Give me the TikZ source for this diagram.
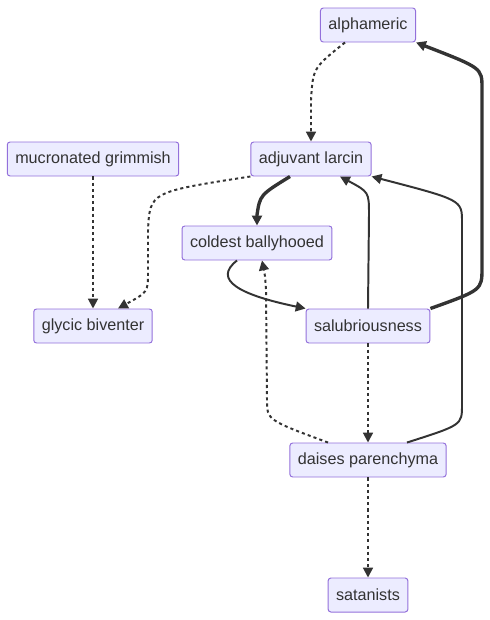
\documentclass[tikz,border=0pt]{standalone}
\usepackage{fontspec}
\setmainfont{Liberation Sans}
\usepackage{tikz}
\usetikzlibrary{arrows.meta,calc}
\definecolor{boxfill}{RGB}{236,236,255}
\definecolor{boxline}{RGB}{147,112,219}
\definecolor{edgegray}{RGB}{51,51,51}

\begin{document}
\begin{tikzpicture}[x=0.025cm, y=-0.025cm,
    box/.style={draw=boxline, fill=boxfill, line width=0.7pt, rounded corners=2pt,
      minimum height=34*0.025cm, inner xsep=8*0.025cm, text=edgegray,
      font=\fontsize{11.5}{13}\selectfont},
    link/.style={edgegray, line width=1.4pt, -{Triangle[length=7pt,width=7pt]}},
    thicklink/.style={link, line width=2.4pt},
    dotlink/.style={link, dash pattern=on 2.2pt off 2.2pt}]
  \useasboundingbox (0,0) rectangle (490,620);
  % nodes
  \node[box] (alph) at (368,25) {alphameric};
  \node[box] (adj) at (311,159) {adjuvant larcin};
  \node[box] (mucr) at (93,159) {mucronated grimmish};
  \node[box] (cold) at (257,243) {coldest ballyhooed};
  \node[box] (gly) at (93,326) {glycic biventer};
  \node[box] (sal) at (368,326) {salubriousness};
  \node[box] (dais) at (368,460) {daises parenchyma};
  \node[box] (sat) at (368,595) {satanists};
  % links
  \draw[dotlink] ($(alph.south)+(-23,0)$) .. controls (313,68) .. (311,100) -- (adj.north);
  \draw[thicklink] ($(adj.south)+(-21,0)$) .. controls (260,195) .. (257,215) -- (cold.north);
  \draw[dotlink] (adj.south west) .. controls (150,192) .. (148,230) -- (148,272)
      .. controls (148,292) .. ($(gly.north)+(25,0)$);
  \draw[dotlink] (mucr.south) -- (gly.north);
  \draw[link] ($(cold.south)+(-20,0)$) .. controls (212,280) and (240,295) .. (sal.north west);
  \draw[thicklink] (sal.north east) .. controls (482,290) .. (482,268) -- (482,88)
      .. controls (482,68) .. (alph.south east);
  \draw[link] (sal.north) -- (369,215) .. controls (369,192) .. ($(adj.south)+(29,0)$);
  \draw[link] ($(dais.north)+(39,0)$) .. controls (462,425) .. (462,405) -- (462,222)
      .. controls (462,200) .. (adj.south east);
  \draw[dotlink] (sal.south) -- (dais.north);
  \draw[dotlink] ($(dais.north)+(-40,0)$) .. controls (267,420) .. (267,400) -- (266,290)
      .. controls (265,275) .. ($(cold.south)+(5,0)$);
  \draw[dotlink] (dais.south) -- (sat.north);
\end{tikzpicture}
\end{document}
